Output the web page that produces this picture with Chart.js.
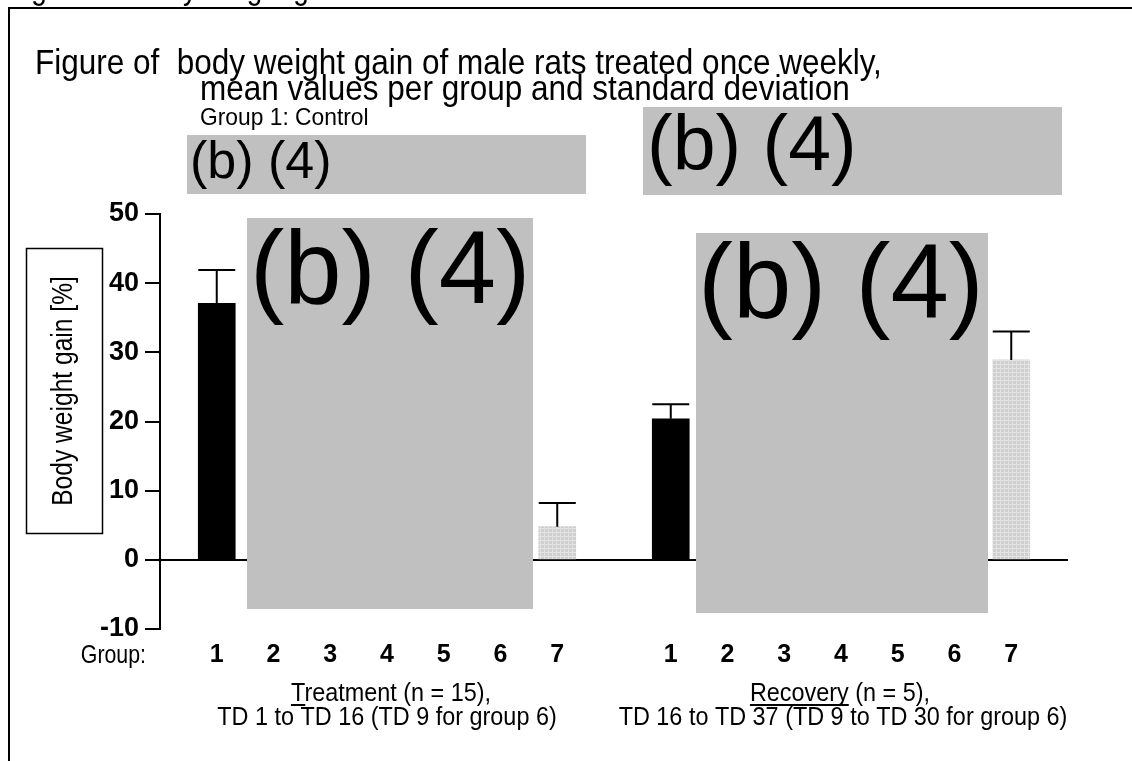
<!DOCTYPE html>
<html><head><meta charset="utf-8">
<script src="https://cdn.jsdelivr.net/npm/chart.js@4.4.1/dist/chart.umd.min.js"></script>
<style>html,body{margin:0;padding:0;background:#fff;}#wrap{position:relative;width:1132px;height:761px;overflow:hidden;background:#fff}</style>
</head><body><div id="wrap"><canvas id="c" width="1132" height="761"></canvas></div>
<script>
// ---- data (groups 2-6 are redacted) ----
const groups = ['1', '2', '3', '4', '5', '6', '7'];
const treatmentMean = [37.1, null, null, null, null, null, 4.8];
const treatmentSD   = [4.8,  null, null, null, null, null, 3.4];
const recoveryMean  = [20.4, null, null, null, null, null, 28.9];
const recoverySD    = [2.1,  null, null, null, null, null, 4.1];
const yTickLabels = [-10, 0, 10, 20, 30, 40, 50];

const ARIAL = "'Liberation Sans', Arial, sans-serif";

// labels/values with an empty slot at each end and between the two periods
const labels = [''].concat(groups, [''], groups, ['']);
const means = [null].concat(treatmentMean, [null], recoveryMean, [null]);
const sds = [null].concat(treatmentSD, [null], recoverySD, [null]);

// light grey hatched fill for group 7
const pc = document.createElement('canvas'); pc.width = 4; pc.height = 4;
const pctx = pc.getContext('2d');
pctx.fillStyle = '#cfcfcf'; pctx.fillRect(0, 0, 4, 4);
pctx.fillStyle = '#e3e3e3'; pctx.fillRect(0, 0, 4, 1); pctx.fillRect(0, 0, 1, 4);
const ctx0 = document.getElementById('c').getContext('2d');
const hatch = ctx0.createPattern(pc, 'repeat');

const barColors = labels.map(l => l === '7' ? hatch : '#000000');

// condensed text: Liberation Sans squeezed horizontally
function narrow(ctx, text, x, y, size, sq, align, baseline, weight) {
  ctx.save();
  ctx.font = (weight || 'normal') + ' ' + size + 'px ' + ARIAL;
  ctx.translate(x, y); ctx.scale(sq, 1);
  ctx.textAlign = align || 'left'; ctx.textBaseline = baseline || 'alphabetic';
  ctx.fillText(text, 0, 0);
  ctx.restore();
}

function narrowUnderlined(ctx, text, x, y, size, sq, start, end) {
  ctx.save();
  ctx.font = size + 'px ' + ARIAL;
  const full = ctx.measureText(text).width * sq;
  const a = ctx.measureText(text.slice(0, start)).width * sq;
  const b = ctx.measureText(text.slice(0, end)).width * sq;
  ctx.restore();
  narrow(ctx, text, x, y, size, sq, 'center');
  const left = x - full / 2;
  ctx.fillRect(left + a, y + 3, b - a, 2);
}

const errorBars = {
  id: 'errorBars',
  afterDatasetsDraw(chart) {
    const ctx = chart.ctx, y = chart.scales.y;
    const meta = chart.getDatasetMeta(0);
    ctx.save();
    ctx.strokeStyle = '#000'; ctx.lineWidth = 2;
    meta.data.forEach((el, i) => {
      const m = means[i], s = sds[i];
      if (m == null || s == null) return;
      const top = y.getPixelForValue(m), cap = y.getPixelForValue(m + s);
      const w = el.width;
      ctx.beginPath();
      ctx.moveTo(el.x, top); ctx.lineTo(el.x, cap);
      ctx.moveTo(el.x - w / 2, cap); ctx.lineTo(el.x + w / 2, cap);
      ctx.stroke();
    });
    // minor ticks of the y axis
    y.ticks.forEach(t => {
      if (yTickLabels.includes(t.value)) return;
      const py = y.getPixelForValue(t.value);
      ctx.beginPath(); ctx.moveTo(chart.chartArea.left - 8, py); ctx.lineTo(chart.chartArea.left, py); ctx.stroke();
    });
    ctx.restore();
  }
};

function redact(ctx, x0, y0, x1, y1, size, tx, ty) {
  ctx.fillStyle = '#c0c0c0';
  ctx.fillRect(x0, y0, x1 - x0, y1 - y0);
  ctx.fillStyle = '#000';
  ctx.font = size + 'px ' + ARIAL;
  ctx.textAlign = 'left'; ctx.textBaseline = 'alphabetic';
  ctx.fillText('(b) (4)', tx, ty);
}

const overlay = {
  id: 'overlay',
  afterDraw(chart) {
    const ctx = chart.ctx;
    ctx.save();
    ctx.fillStyle = '#000'; ctx.strokeStyle = '#000';
    // page fragment at the very top
    narrow(ctx, 'Figure 1:  Body weight gain', 8, -1, 34, 0.82);
    // frame
    ctx.fillRect(8, 7, 1124, 2);
    ctx.fillRect(8, 7, 2, 754);
    // titles
    narrow(ctx, 'Figure of  body weight gain of male rats treated once weekly,', 35, 74, 35, 0.9);
    narrow(ctx, 'mean values per group and standard deviation', 200, 100, 35, 0.9);
    narrow(ctx, 'Group 1: Control', 200, 125, 24, 0.95);
    // y-axis title box
    ctx.lineWidth = 1.5;
    ctx.strokeRect(26.5, 248.5, 76, 285);
    ctx.save();
    ctx.translate(64, 391); ctx.rotate(-Math.PI / 2);
    ctx.font = '30px ' + ARIAL; ctx.textAlign = 'center'; ctx.textBaseline = 'middle';
    ctx.scale(0.82, 1);
    ctx.fillText('Body weight gain [%]', 0, 0);
    ctx.restore();
    // "Group:" caption next to the x tick labels
    narrow(ctx, 'Group:', 146, 656, 26, 0.82, 'right', 'middle');
    // period captions
    narrowUnderlined(ctx, 'Treatment (n = 15),', 391, 701, 26, 0.9, 0, 1);
    narrow(ctx, 'TD 1 to TD 16 (TD 9 for group 6)', 387, 725, 26, 0.9, 'center');
    narrowUnderlined(ctx, 'Recovery (n = 5),', 840, 701, 26, 0.9, 0, 8);
    narrow(ctx, 'TD 16 to TD 37 (TD 9 to TD 30 for group 6)', 843, 725, 26, 0.9, 'center');
    // redaction boxes
    redact(ctx, 187, 135, 586, 194, 52, 190, 178);
    redact(ctx, 643, 107, 1062, 195, 77, 647, 170);
    redact(ctx, 247, 218, 533, 609, 103, 250, 303);
    redact(ctx, 696, 233, 988, 613, 105, 698, 318);
    ctx.restore();
  }
};

new Chart(document.getElementById('c'), {
  type: 'bar',
  data: {
    labels: labels,
    datasets: [{
      data: means,
      backgroundColor: barColors,
      borderWidth: 0,
      barThickness: 37
    }]
  },
  options: {
    responsive: false,
    animation: false,
    devicePixelRatio: 1,
    layout: { padding: { left: 100, top: 214, right: 64, bottom: 92 } },
    plugins: { legend: { display: false }, tooltip: { enabled: false }, title: { display: false } },
    scales: {
      x: {
        type: 'category',
        offset: false,
        grid: { display: false, drawTicks: false },
        border: { display: false },
        ticks: {
          autoSkip: false, maxRotation: 0, padding: 11, color: '#000',
          font: { family: ARIAL, size: 25, weight: 'bold' }
        },
        afterFit: s => { s.height = 40; }
      },
      y: {
        min: -10, max: 50,
        border: { display: true, color: '#000', width: 2 },
        grid: {
          drawOnChartArea: true,
          color: c => (c.tick && c.tick.value === 0) ? '#000' : 'rgba(0,0,0,0)',
          lineWidth: 2,
          drawTicks: true, tickLength: 15, tickWidth: 2,
          tickColor: c => (c.tick && yTickLabels.includes(c.tick.value)) ? '#000' : 'rgba(0,0,0,0)'
        },
        ticks: {
          stepSize: 5, padding: 6, color: '#000',
          font: { family: ARIAL, size: 27, weight: 'bold' },
          callback: v => yTickLabels.includes(v) ? String(v) : ''
        },
        afterFit: s => { s.width = 60; }
      }
    }
  },
  plugins: [errorBars, overlay]
});
</script>
</body></html>
